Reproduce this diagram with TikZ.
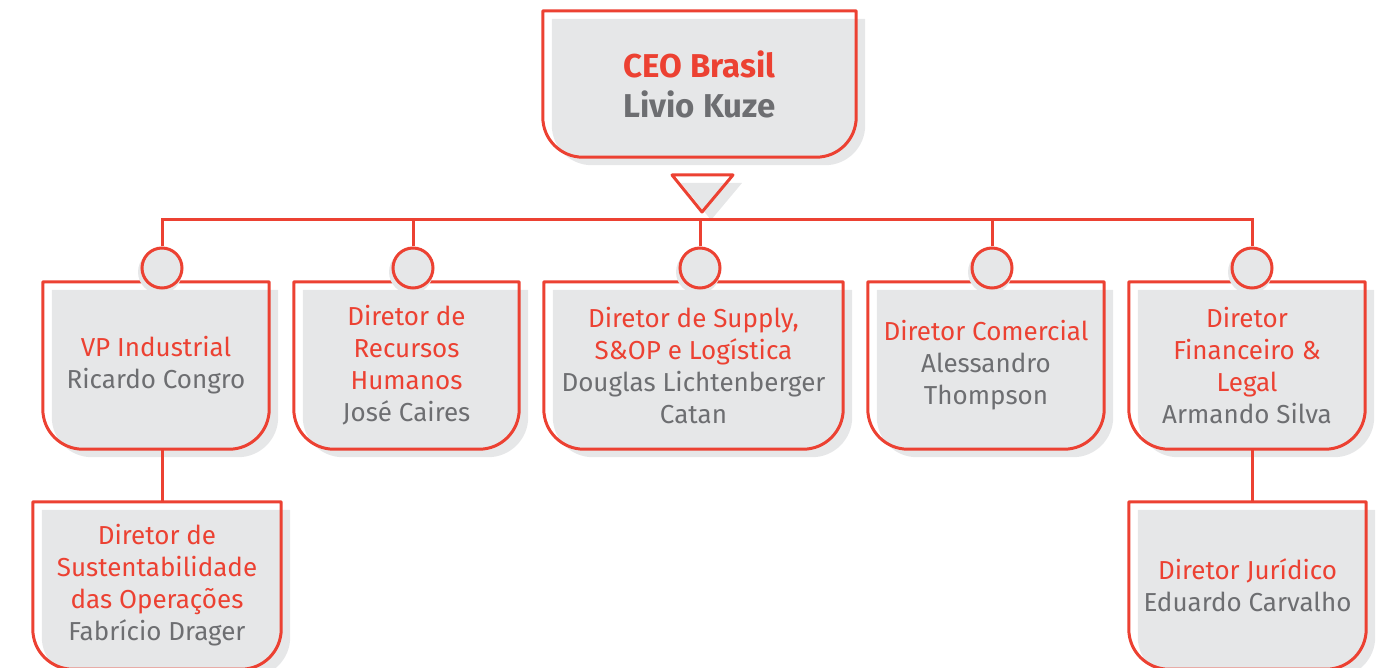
\documentclass[tikz,border=0pt]{standalone}
\usepackage{fontspec}
\setmainfont{Fira Sans}
\usetikzlibrary{positioning,backgrounds}
\definecolor{chartred}{HTML}{EC4132}
\definecolor{chartgray}{HTML}{6D6E71}
\definecolor{shadowfill}{HTML}{E6E7E8}
\tikzset{
	unit/.style={draw=none,minimum width=#1,minimum height=167pt,inner sep=0pt,align=center,text=chartgray,font=\fontsize{26}{32}\selectfont},
	head/.style={draw=none,minimum width=313pt,minimum height=146pt,inner sep=0pt,align=center,text=chartgray,font=\bfseries\fontsize{33}{40}\selectfont},
	knob/.style={circle,draw=chartred,line width=3pt,fill=shadowfill,minimum size=40pt,inner sep=0pt},
	edge/.style={draw=chartred,line width=3pt,line join=round},
	shade/.style={fill=shadowfill},
	wire/.style={draw=chartred,line width=3pt}
}
\newcommand{\role}[1]{{\color{chartred}#1}}
\newcommand{\frameit}[1]{%
	\fill[shade] ([shift={(9pt,-8pt)}]#1.north west) -- ([shift={(9pt,-8pt)}]#1.north east)
		-- ([shift={(9pt,32pt)}]#1.south east) arc[start angle=0,end angle=-90,radius=40pt]
		-- ([shift={(49pt,-8pt)}]#1.south west) arc[start angle=270,end angle=180,radius=40pt] -- cycle;
	\draw[edge] (#1.north west) -- (#1.north east)
		-- ([yshift=40pt]#1.south east) arc[start angle=0,end angle=-90,radius=40pt]
		-- ([xshift=40pt]#1.south west) arc[start angle=270,end angle=180,radius=40pt] -- cycle;
}
\begin{document}
\begin{tikzpicture}[x=1pt,y=1pt]
	\useasboundingbox (0,0) rectangle (1382,-668);
	\node[head] (ceo) at (699.5,-84) {\role{CEO Brasil}\\Livio Kuze};
	\node[unit=226pt] (vp) at (156,-365.5) {\role{VP Industrial}\\Ricardo Congro};
	\node[unit=225pt] (rh) at (406.5,-365.5) {\role{Diretor de}\\\role{Recursos}\\\role{Humanos}\\José Caires};
	\node[unit=299pt] (sup) at (693.5,-365.5) {\role{Diretor de Supply,}\\\role{S\&OP e Logística}\\Douglas Lichtenberger\\Catan};
	\node[unit=236pt] (com) at (986,-365.5) {\role{Diretor Comercial}\\Alessandro\\Thompson};
	\node[unit=236pt] (fin) at (1247,-365.5) {\role{Diretor}\\\role{Financeiro \&}\\\role{Legal}\\Armando Silva};
	\node[unit=248pt] (sus) at (157,-585.5) {\role{Diretor de}\\\role{Sustentabilidade}\\\role{das Operações}\\Fabrício Drager};
	\node[unit=237pt] (jur) at (1247.5,-585.5) {\role{Diretor Jurídico}\\Eduardo Carvalho};
	
	\begin{scope}[on background layer]
		\foreach \b in {ceo,vp,rh,sup,com,fin,sus,jur}{\frameit{\b}}
	\end{scope}
	
	\fill[shade] (681,-183) -- (742,-183) -- (711,-220) -- cycle;
	\draw[edge] (672,-175) -- (733,-175) -- (702,-212) -- cycle;
	
	\coordinate (bus) at (0,-220);
	\foreach \n/\x in {c1/162,c2/413,c3/700,c4/992,c5/1252}{
		\fill[shade] (\x-2,-272) circle[radius=22pt];
		\node[knob] (\n) at (\x,-268) {};
	}
	\draw[wire] (c1.north) -- (c1.north |- bus) -- (c5.north |- bus) -- (c5.north);
	\foreach \n in {c2,c3,c4}{\draw[wire] (\n.north) -- (\n.north |- bus);}
	\draw[wire] (c1 |- vp.south) -- (c1 |- sus.north);
	\draw[wire] (c5 |- fin.south) -- (c5 |- jur.north);
\end{tikzpicture}
\end{document}
